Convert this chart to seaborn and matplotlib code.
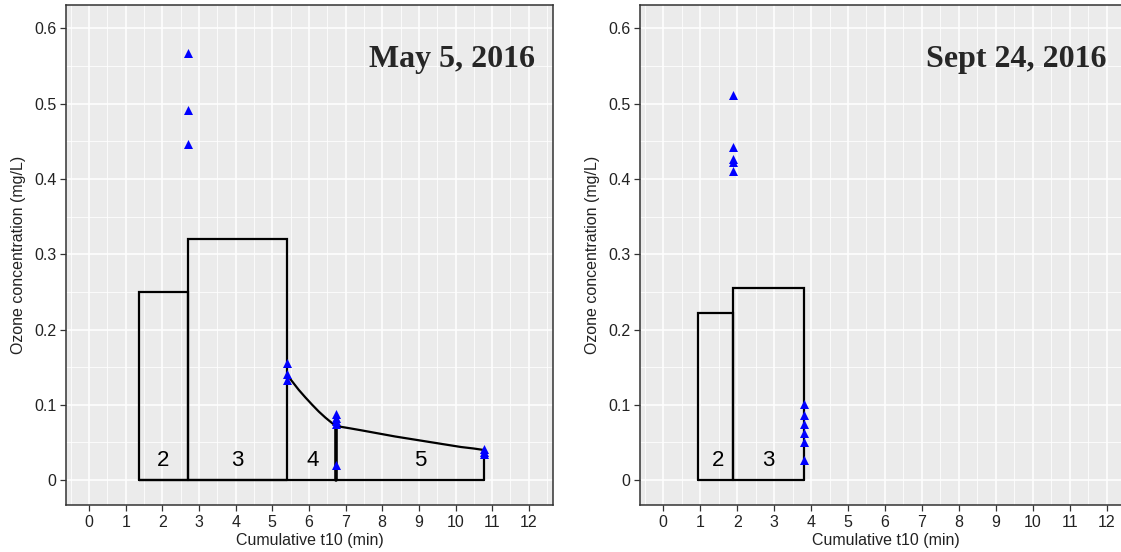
import numpy as np
import pandas as pd
import matplotlib
matplotlib.use("Agg")
import matplotlib.pyplot as plt
from matplotlib.ticker import MultipleLocator, FuncFormatter
import seaborn as sns

# ---- May 5, 2016 ----
may_edges = [1.35, 2.7, 5.4, 6.73, 10.78]          # chamber boundaries (cumulative t10, min)
may_box_heights = [0.25, 0.32]                     # chambers 2 and 3 (mg/L)
may_c4_x = [5.4, 5.56, 5.72, 5.9, 6.09, 6.27, 6.45, 6.6, 6.73]   # decay curve, chamber 4
may_c4_y = [0.140, 0.130, 0.120, 0.110, 0.100, 0.091, 0.083, 0.077, 0.072]
may_c5_x = [6.73, 7.1, 7.45, 7.9, 8.35, 8.8, 9.25, 9.7, 10.15, 10.5, 10.78]   # decay curve, chamber 5
may_c5_y = [0.072, 0.069, 0.066, 0.062, 0.058, 0.0545, 0.051, 0.0475, 0.044, 0.042, 0.040]
may_obs_t = [2.7, 2.7, 2.7, 5.4, 5.4, 5.4, 6.73, 6.73, 6.73, 6.73, 6.73, 10.78, 10.78, 10.78]
may_obs_c = [0.567, 0.492, 0.447, 0.155, 0.141, 0.133, 0.088, 0.083, 0.078, 0.075, 0.020,
             0.041, 0.038, 0.035]
may_labels = ["2", "3", "4", "5"]
may_label_x = [2.02, 4.05, 6.1, 9.05]

# ---- Sept 24, 2016 ----
sep_edges = [0.95, 1.9, 3.8]
sep_box_heights = [0.222, 0.255]
sep_obs_t = [1.9, 1.9, 1.9, 1.9, 1.9, 3.8, 3.8, 3.8, 3.8, 3.8, 3.8]
sep_obs_c = [0.511, 0.443, 0.427, 0.422, 0.411, 0.101, 0.087, 0.075, 0.063, 0.051, 0.027]
sep_labels = ["2", "3"]
sep_label_x = [1.48, 2.85]

x_ticks = list(range(0, 13))
y_ticks = [0, 0.1, 0.2, 0.3, 0.4, 0.5, 0.6]

sns.set_theme(style="darkgrid")
plt.rcParams["font.family"] = ["Liberation Sans", "DejaVu Sans"]

W, H = 1121, 552
fig = plt.figure(figsize=(W / 100, H / 100), dpi=100)

def px_axes(left, top, right, bottom):
    return fig.add_axes([left / W, 1 - bottom / H, (right - left) / W, (bottom - top) / H])

ax1 = px_axes(66, 5, 553, 505)
ax2 = px_axes(640, 5, 1131, 505)

LINE = dict(color="black", lw=1.6, solid_joinstyle="miter", zorder=3)

def style(ax, title, title_x):
    ax.set_facecolor("#EBEBEB")
    ax.set_xlim(-0.63, 12.66)
    ax.set_ylim(-0.033, 0.631)
    ax.set_xticks(x_ticks)
    ax.set_yticks(y_ticks)
    ax.xaxis.set_minor_locator(MultipleLocator(0.5))
    ax.yaxis.set_minor_locator(MultipleLocator(0.05))
    ax.yaxis.set_major_formatter(FuncFormatter(lambda v, p: "0" if abs(v) < 1e-9 else f"{v:g}"))
    ax.grid(which="major", color="white", lw=1.1, zorder=0)
    ax.grid(which="minor", color="white", lw=0.55, zorder=0)
    ax.set_axisbelow(True)
    for s in ax.spines.values():
        s.set_visible(True)
        s.set_color("#333333")
        s.set_linewidth(1.1)
    ax.tick_params(which="major", length=4, width=0.9, color="#333333",
                   labelsize=11.5, labelcolor="#222222", pad=3, left=True, bottom=True)
    ax.tick_params(which="minor", length=0)
    ax.set_xlabel("Cumulative t10 (min)", fontsize=11.5, color="#222222", labelpad=2)
    ax.set_ylabel("Ozone concentration (mg/L)", fontsize=11.5, color="#222222", labelpad=6)
    ax.text(title_x, 0.89, title, transform=ax.transAxes, ha="right", va="center",
            fontsize=23, fontweight="bold", family=["Liberation Serif", "DejaVu Serif"], zorder=5)

def boxes(ax, edges, heights):
    # rectangles for the chambers with a constant concentration
    for i, h in enumerate(heights):
        x0, x1 = edges[i], edges[i + 1]
        ax.plot([x0, x0, x1, x1], [0, h, h, 0], **LINE)
    ax.plot([edges[0], edges[-1]], [0, 0], **LINE)

def obs(ax, t, c):
    df = pd.DataFrame({"t": t, "c": c})
    sns.scatterplot(data=df, x="t", y="c", ax=ax, marker="^", color="#0000FF",
                    s=42, linewidth=0, zorder=4, legend=False)

def labels(ax, xs, texts):
    for x, s in zip(xs, texts):
        ax.text(x, 0.026, s, ha="center", va="center", fontsize=16, color="black", zorder=5)

# left panel
style(ax1, "May 5, 2016", 0.963)
boxes(ax1, may_edges[:3], may_box_heights)
ax1.plot([may_edges[0], may_edges[-1]], [0, 0], **LINE)
sns.lineplot(x=may_c4_x, y=may_c4_y, ax=ax1, sort=False, estimator=None, **LINE)
sns.lineplot(x=may_c5_x, y=may_c5_y, ax=ax1, sort=False, estimator=None, **LINE)
ax1.plot([may_c4_x[-1], may_c4_x[-1]], [0, may_c4_y[-1]], color="black", lw=2.6, zorder=3)
ax1.plot([may_c5_x[-1], may_c5_x[-1]], [0, may_c5_y[-1]], **LINE)
obs(ax1, may_obs_t, may_obs_c)
labels(ax1, may_label_x, may_labels)

# right panel
style(ax2, "Sept 24, 2016", 0.951)
boxes(ax2, sep_edges, sep_box_heights)
obs(ax2, sep_obs_t, sep_obs_c)
labels(ax2, sep_label_x, sep_labels)

for ax in (ax1, ax2):
    ax.set_xlabel("Cumulative t10 (min)")
    ax.set_ylabel("Ozone concentration (mg/L)")

fig.savefig("out.png", dpi=100)
